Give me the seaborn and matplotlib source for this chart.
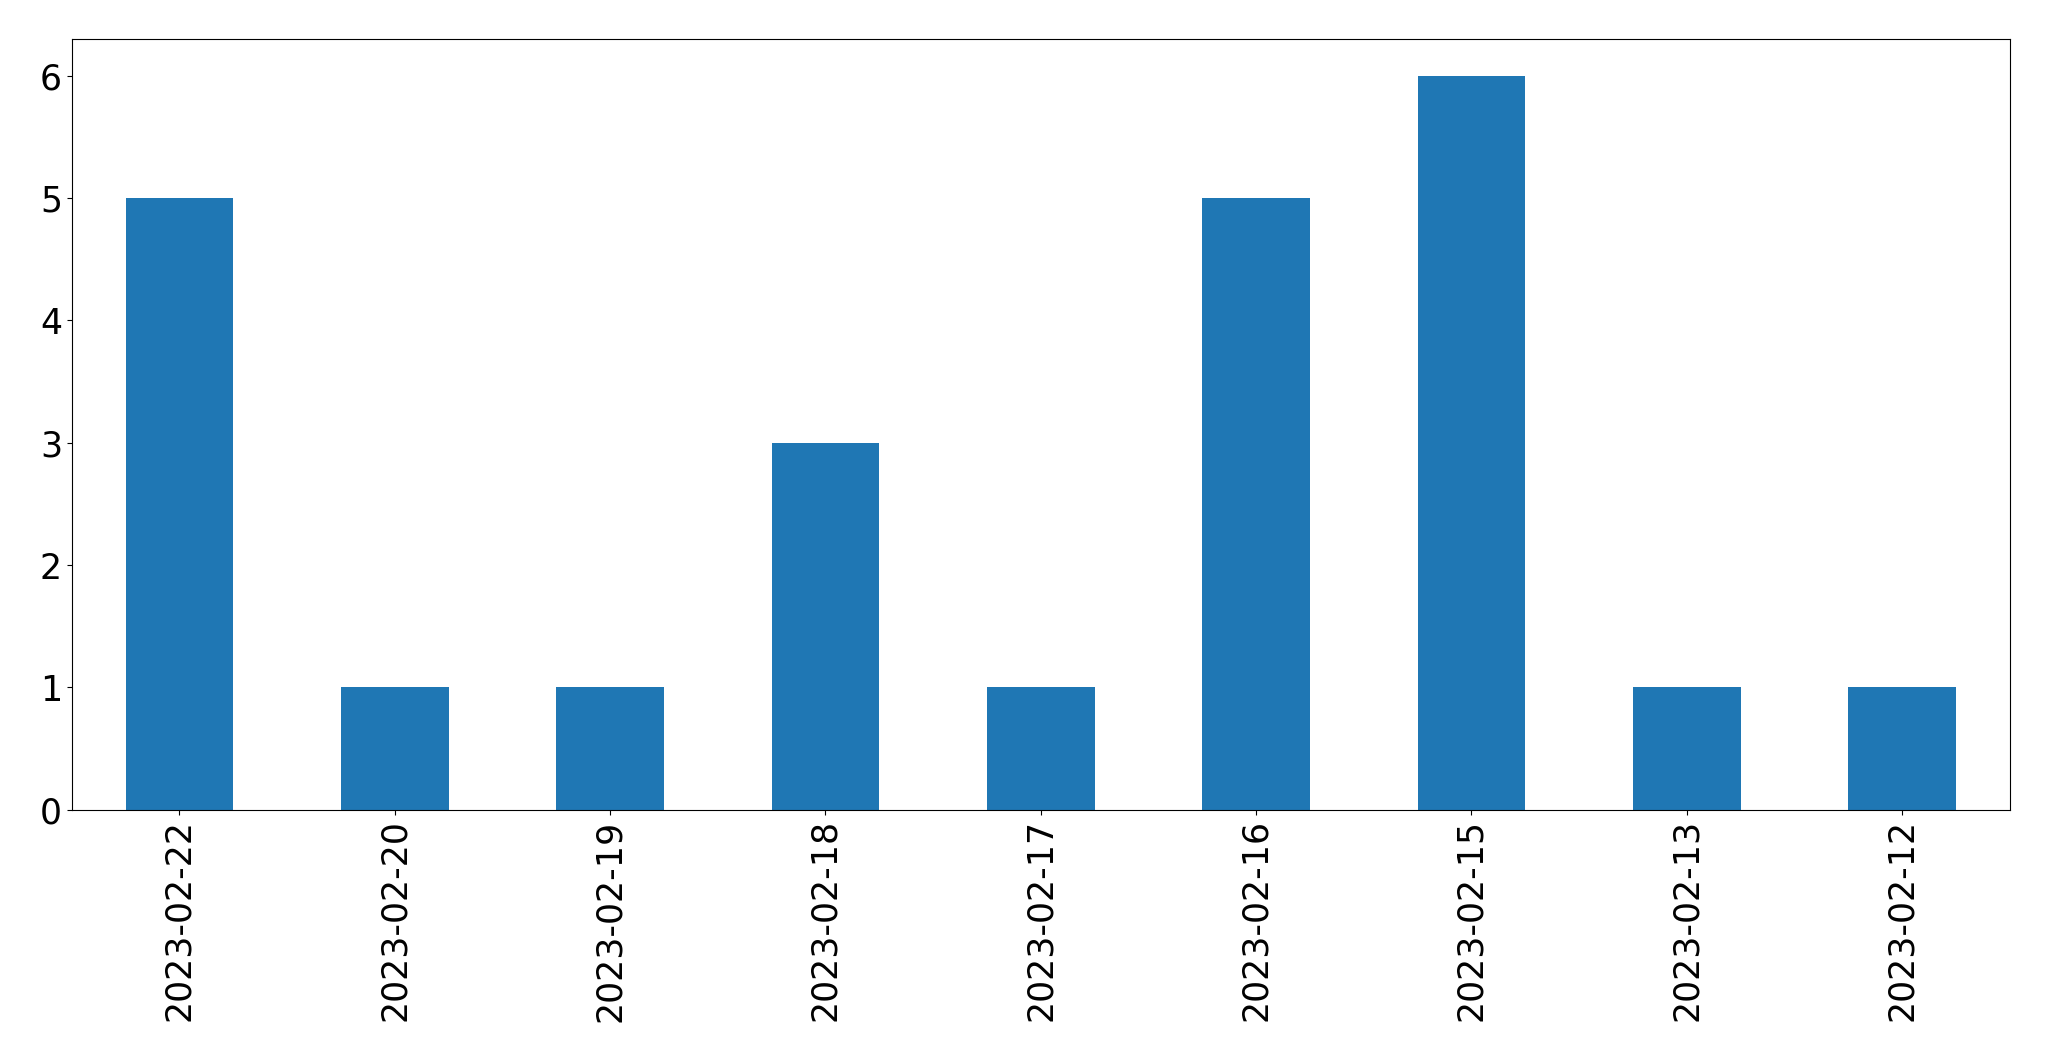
import matplotlib
matplotlib.use("Agg")
import matplotlib.pyplot as plt
import seaborn as sns
import pandas as pd

dates = ["2023-02-22", "2023-02-20", "2023-02-19", "2023-02-18", "2023-02-17",
         "2023-02-16", "2023-02-15", "2023-02-13", "2023-02-12"]
counts = [5, 1, 1, 3, 1, 5, 6, 1, 1]

df = pd.DataFrame({"date": dates, "count": counts})

fig = plt.figure(figsize=(20.49, 10.61), dpi=100)
ax = fig.add_axes([0.035, 0.237, 0.9458, 0.726])
sns.barplot(data=df, x="date", y="count", color="#1f77b4", saturation=1,
            width=0.5, ax=ax, order=dates, linewidth=0)
ax.set_xlim(-0.5, len(dates) - 0.5)
ax.set_xlabel("")
ax.set_ylabel("")
ax.set_yticks(range(0, 7))
ax.tick_params(axis="both", labelsize=25)
ax.tick_params(axis="x", labelrotation=90)
fig.savefig("out.png", dpi=100)
